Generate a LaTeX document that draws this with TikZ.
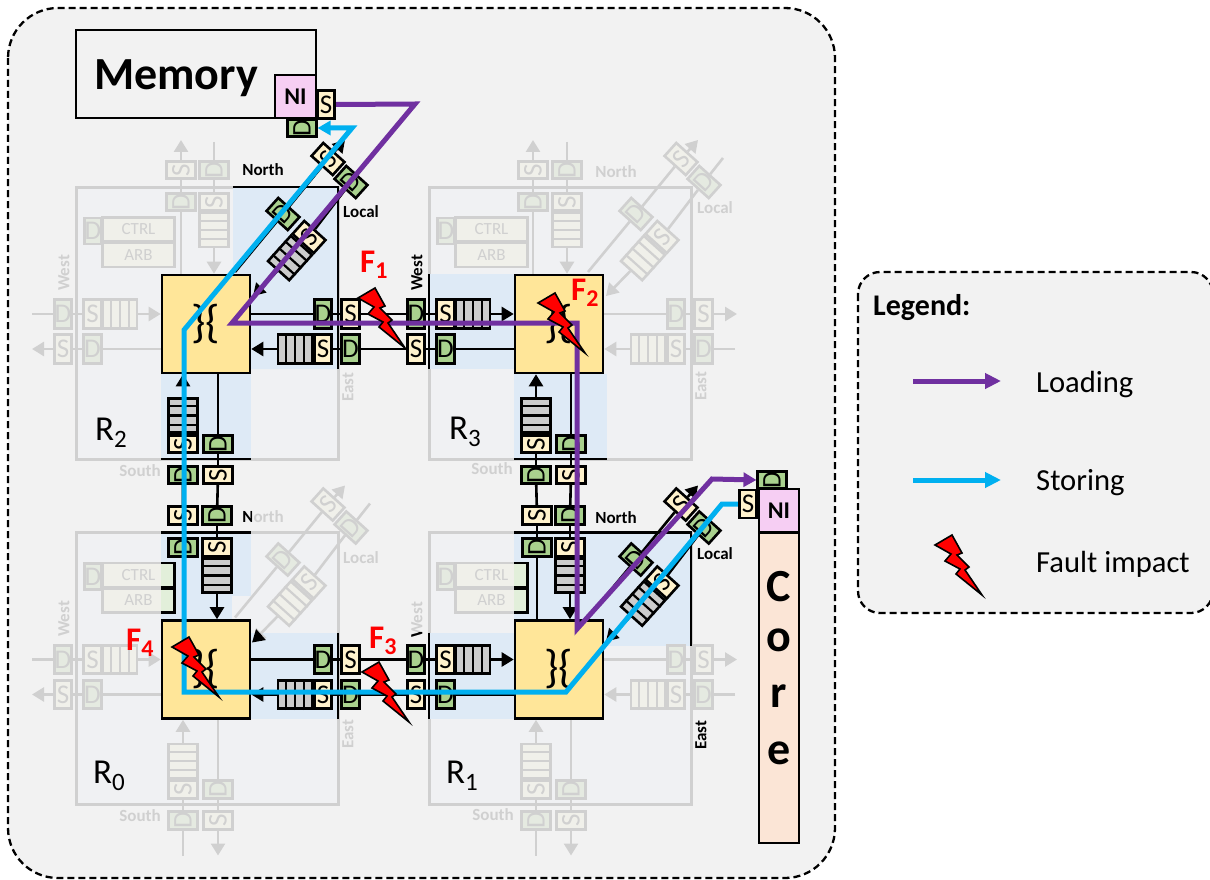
\documentclass[tikz,border=0pt]{standalone}
\usepackage{fontspec}
\setmainfont{Carlito}
\usetikzlibrary{arrows.meta, calc}
\definecolor{nocbg}{HTML}{F2F2F2}
\definecolor{tilebg}{HTML}{F0F1F3}
\definecolor{hilite}{HTML}{DEEAF6}
\definecolor{xbarc}{HTML}{FFE699}
\definecolor{srcc}{HTML}{FFF2CC}
\definecolor{dstc}{HTML}{A9D18E}
\definecolor{bufc}{HTML}{CCCCCC}
\definecolor{ctrlc}{HTML}{E2EFDA}
\definecolor{nic}{HTML}{F6CEF3}
\definecolor{corec}{HTML}{FBE5D6}
\definecolor{fdline}{HTML}{D0D0D0}
\definecolor{fdsrc}{HTML}{F0F0EA}
\definecolor{fddst}{HTML}{E5EAE1}
\definecolor{loadc}{HTML}{7030A0}
\definecolor{storec}{HTML}{00B0F0}
\newcommand\fs[1]{\fontsize{#1}{#1}\selectfont}
\tikzset{
  >={Triangle[length=12pt, width=14pt]},
  every picture/.style={line join=miter},
  portbox/.style={minimum width=17.5pt, minimum height=28.5pt, inner sep=0pt, line width=2.6pt, font=\fs{27}},
  % active look
  sbox/.style={portbox, draw=black, fill=srcc},
  dbox/.style={portbox, draw=black, fill=dstc},
  bufbox/.style={minimum width=34pt, minimum height=28.5pt, inner sep=0pt, line width=2.6pt, draw=black, fill=bufc},
  bufcut/.style={line width=2.2pt, black},
  wire/.style={line width=2.6pt, black},
  wirearrow/.style={line width=2.6pt, black, ->},
  outwire/.style={draw=none},
  outarrow/.style={draw=none},
  ctrlcell/.style={minimum width=72pt, minimum height=24pt, inner sep=0pt, line width=2.6pt, draw=fdline, fill=fdsrc, text=fdline, font=\fs{17}},
  % everything not used by the route
  faded/.style={
    sbox/.style={portbox, draw=fdline, fill=fdsrc, text=fdline},
    dbox/.style={portbox, draw=fdline, fill=fddst, text=fdline},
    bufbox/.style={minimum width=34pt, minimum height=28.5pt, inner sep=0pt, line width=2.6pt, draw=fdline, fill=fdsrc},
    bufcut/.style={line width=2.2pt, fdline},
    wire/.style={line width=2.6pt, fdline},
    wirearrow/.style={line width=2.6pt, fdline, ->},
    outwire/.style={line width=2.6pt, fdline},
    outarrow/.style={line width=2.6pt, fdline, ->},
  },
  frm/.style={line width=3pt, draw=fdline, fill=tilebg},
  edge/.style={line width=2.6pt, black},
  xbar/.style={minimum width=88pt, minimum height=98pt, inner sep=0pt, line width=2.6pt, draw=black, fill=xbarc, font=\fs{46}},
  plain/.style={line width=2.6pt, draw=black},
  pname/.style={font=\bfseries\fs{17}},
  pnamefd/.style={font=\bfseries\fs{17}, text=fdline},
  rname/.style={anchor=base west, inner sep=0pt, font=\fs{35}},
  fname/.style={anchor=base west, inner sep=0pt, text=red, font=\bfseries\fs{33}},
  dashbox/.style={line width=2.3pt, dash pattern=on 7pt off 4pt, fill=nocbg},
  loadpath/.style={line width=5pt, loadc, -{Triangle[length=13pt, width=14pt]}},
  storepath/.style={line width=5pt, storec, -{Triangle[length=13pt, width=14pt]}},
  bolt/.pic={
    \draw[line width=1.6pt, fill=red] (17,0) -- (27,18) -- (22,20) -- (34,32) -- (30,35) -- (47,60)
      -- (21,39) -- (25,34) -- (10,26) -- (16,19) -- (0,10) -- cycle;
  },
}
% buffer with cell dividers
\newcommand\bufr[4]{%
  \node[bufbox, rotate=#3] (#4) at (#1,#2) {};
  \foreach \i in {1,2,3}
    \draw[bufcut] ($(#4.south west)!\i/4!(#4.south east)$) -- ($(#4.north west)!\i/4!(#4.north east)$);}
\newcommand\tile{%
  \draw[frm] (-85,-87) rectangle (177,185);}
\newcommand\xcell{%
  \node[xbar] (xb) at (45,50) {\raisebox{-5pt}{\}\{}};}
\newcommand\westport{%
  \node[dbox] (wd) at (-98,40) {D};
  \node[sbox] (ws) at (-68.5,40) {S};
  \bufr{-41}{40}{0}{wb}
  \node[sbox] (wt) at (-98,75) {S};
  \node[dbox] (wr) at (-68.5,75) {D};
  \draw[wire] (wd) -- (ws) (wt) -- (wr) (wr) -- (wr -| xb.west);
  \draw[wirearrow] (wb) -- (wb -| xb.west);
  \draw[outwire] (-129,40) -- (wd);
  \draw[outarrow] (wt) -- (-129,75);}
\newcommand\eastport{%
  \node[dbox] (ed) at (162,40) {D};
  \node[sbox] (es) at (189.5,40) {S};
  \bufr{134}{75}{0}{eb}
  \node[sbox] (et) at (162,75) {S};
  \node[dbox] (er) at (189.5,75) {D};
  \draw[wire] (ed -| xb.east) -- (ed) (ed) -- (es) (et) -- (er);
  \draw[wirearrow] (eb) -- (eb -| xb.east);
  \draw[outarrow] (es) -- (223,40);
  \draw[outwire] (221,75) -- (er);}
% #1, #2: columns of the two directions
\newcommand\northport[2]{%
  \node[sbox, rotate=90] (nu) at (#1,-104) {S};
  \node[dbox, rotate=90] (nl) at (#1,-72) {D};
  \node[dbox, rotate=90] (nd) at (#2,-104) {D};
  \node[sbox, rotate=90] (ns) at (#2,-72) {S};
  \bufr{#2}{-44}{90}{nb}
  \draw[wire] (nl |- xb.north) -- (nl) (nl) -- (nu) (nd) -- (ns);
  \draw[wirearrow] (nb) -- (nb |- xb.north);
  \draw[outarrow] (nu) -- (#1,-134);
  \draw[outwire] (#2,-132) -- (nd);}
\newcommand\southport{%
  \bufr{22}{141.5}{90}{sb}
  \node[sbox, rotate=90] (si) at (22,170) {S};
  \node[dbox, rotate=90] (sd) at (22,201) {D};
  \node[dbox, rotate=90] (st) at (57,170) {D};
  \node[sbox, rotate=90] (so) at (57,201) {S};
  \draw[wire] (si) -- (sd) (st |- xb.south) -- (st) (st) -- (so);
  \draw[wirearrow] (sb) -- (sb |- xb.south);
  \draw[outwire] (22,236) -- (sd);
  \draw[outarrow] (so) -- (57,236);}
\newcommand\localport{%
  \node[dbox, rotate=48] (li) at (122,-60) {D};
  \node[sbox, rotate=48] (lj) at (148,-37) {S};
  \bufr{129}{-16}{48}{lb}
  \node[sbox, rotate=48] (lu) at (167,-115) {S};
  \node[dbox, rotate=48] (lv) at (190,-92) {D};
  \draw[wire] (74,-2) -- (li) (li) -- (lu) (lj) -- (lv) (lv) -- (209,-116);
  \draw[wirearrow] (lu) -- (184,-134);
  \draw[wirearrow] (lb) -- (92,22);}
\newcommand\ctrlpair{%
  \node[dbox, minimum height=26pt] (cd) at (-68,-43) {D};
  \node[ctrlcell] (ct) at (-22.5,-44.5) {CTRL};
  \node[ctrlcell] (ar) at (-22.5,-19) {ARB};}
% part of the control block that lies in the lit area
\newcommand\ctrllit{%
  \begin{scope}
    \clip (0,-60) rectangle (20,-3);
    \node[ctrlcell, draw=black, fill=ctrlc] (ct1) at (-22.5,-44.5) {};
    \node[ctrlcell, draw=black, fill=ctrlc] (ar1) at (-22.5,-19) {};
  \end{scope}}

\begin{document}
\begin{tikzpicture}[x=1pt, y=-1pt]
  \useasboundingbox (0,0) rectangle (1210,880);
  \draw[dashbox, rounded corners=50pt] (8,8) rectangle (835,878);
  \draw[dashbox, rounded corners=22pt] (858,272) rectangle (1213,613);
  % ---------------- R2
  \begin{scope}[shift={(161,274)}, name prefix=rb-]
    \tile
    \fill[hilite] (72,-87) -- (177,-87) -- (177,95) -- (90,95) -- (90,0) -- (72,0) -- cycle;
    \fill[hilite] (0,100) rectangle (90,185);
    \draw[edge] (72,-87) -- (177,-87) -- (177,95) (0,185) -- (90,185);
    \xcell
    \begin{scope}[faded]
      \northport{20}{53}
      \westport
      \ctrlpair
    \end{scope}
    \southport
    \eastport
    \localport
  \end{scope}
  % ---------------- R3
  \begin{scope}[shift={(514,274)}, name prefix=rc-]
    \tile
    \fill[hilite] (-85,0) rectangle (0,95);
    \fill[hilite] (0,100) rectangle (93,185);
    \draw[edge] (-85,0) -- (-85,95) (0,185) -- (93,185);
    \xcell
    \begin{scope}[faded]
      \northport{19}{53}
      \eastport
      \localport
      \ctrlpair
    \end{scope}
    \westport
    \southport
  \end{scope}
  % ---------------- R0
  \begin{scope}[shift={(161,619.5)}, name prefix=ra-]
    \tile
    \fill[hilite] (0,-87) rectangle (90,-24);
    \fill[hilite] (0,-24) rectangle (71,0);
    \fill[hilite] (90,13) rectangle (177,99);
    \draw[edge] (0,-87) -- (90,-87) (177,13) -- (177,99);
    \xcell
    \begin{scope}[faded]
      \westport
      \southport
      \localport
      \ctrlpair
    \end{scope}
    \ctrllit
    \draw[wirearrow] (100,15) -- (91,23);
    \northport{22}{56}
    \eastport
  \end{scope}
  % ---------------- R1
  \begin{scope}[shift={(514,619.5)}, name prefix=rd-]
    \tile
    \fill[hilite] (0,-87) rectangle (177,26);
    \fill[hilite] (-85,13) rectangle (0,99);
    \draw[edge] (0,-87) -- (177,-87) -- (177,26) (-85,13) -- (-85,99);
    \xcell
    \begin{scope}[faded]
      \southport
      \eastport
      \ctrlpair
    \end{scope}
    \ctrllit
    \northport{23}{56}
    \westport
    \localport
  \end{scope}
  % links between routers
  \draw[wire] (rb-sd) -- (ra-nu) (rb-so) -- (ra-nd);
  \draw[wire] (rc-sd) -- (rd-nu) (rc-so) -- (rd-nd);
  \draw[wire] (rb-es) -- (rc-wd) (rc-wt) -- (rb-er);
  \draw[wire] (ra-es) -- (rd-wd) (rd-wt) -- (ra-er);
  % memory and core
  \node[plain, minimum width=240pt, minimum height=88pt] (mem) at (196,74) {};
  \node[anchor=base west, inner sep=0pt, font=\bfseries\fs{46}] (memt) at (94,90) {Memory};
  \node[plain, fill=nic, minimum width=41pt, minimum height=43pt, font=\bfseries\fs{24}] (memni) at (295.5,96.5) {NI};
  \node[sbox, minimum height=28pt] (mems) at (326,104.5) {S};
  \node[dbox, rotate=90] (memd) at (302,128) {D};
  \node[plain, fill=corec, minimum width=40pt, minimum height=310pt] (core) at (779,688) {};
  \node[plain, fill=nic, minimum width=40pt, minimum height=43pt, font=\bfseries\fs{24}] (coreni) at (779,510.5) {NI};
  \node[sbox, minimum height=28pt] (cores) at (748,504) {S};
  \node[dbox, rotate=90] (cored) at (772,480) {D};
  \foreach \y/\c/\n in {601/C/cc, 651/o/co, 707/r/cr, 764/e/ce}
    \node[anchor=base, font=\bfseries\fs{46}] (\n) at (779,\y) {\c};
  % port names
  \node[pname] (n2) at (263,170) {North};
  \node[pname] (l2) at (361,212) {Local};
  \node[pnamefd] (n3) at (616,172) {North};
  \node[pnamefd] (l3) at (715,208) {Local};
  \node[pnamefd] (n0) at (263,517) {North};
  \begin{scope}
    \clip (230,505) rectangle (251,530);
    \node[pname] (n0b) at (263,517) {North};
  \end{scope}
  \node[pnamefd] (l0) at (361,558) {Local};
  \node[pname] (n1) at (616,518) {North};
  \node[pname] (l1) at (715,554) {Local};
  \node[pnamefd] (s2) at (140,471) {South};
  \node[pnamefd] (s3) at (492,469) {South};
  \node[pnamefd] (s0) at (140,816) {South};
  \node[pnamefd] (s1) at (493,815) {South};
  \node[pnamefd, rotate=90] (e2) at (348,387) {East};
  \node[pnamefd, rotate=90] (e3) at (701,386) {East};
  \node[pnamefd, rotate=90] (e0) at (348,734) {East};
  \node[pname, rotate=90] (e1) at (701,735) {East};
  \node[pnamefd, rotate=90] (w2) at (64,273) {West};
  \node[pname, rotate=90] (w3) at (417,273) {West};
  \node[pnamefd, rotate=90] (w0) at (64,619) {West};
  \node[pnamefd, rotate=90] (w1) at (417,620) {West};
  \begin{scope}
    \clip (405,632) rectangle (430,650);
    \node[pname, rotate=90] (w1b) at (417,620) {West};
  \end{scope}
  % router names
  \foreach \x/\y/\d/\n in {95/440/2/t2, 449/439/3/t3, 93/783/0/t0, 446/783/1/t1}
    \node[rname] (\n) at (\x,\y) {R\raisebox{-7pt}{\fs{25}\d}};
  % the two routes
  \draw[loadpath] (mems.east) -- (415,104) -- (232,323) -- (577,323) -- (577,629) -- (712,479) -- (cored.north);
  \draw[storepath] (cores.west) -- (722,504) -- (566,692) -- (184,692) -- (184,330) -- (352,128) -- (memd.south);
  % faults
  \pic (f1) at (358,288) {bolt};
  \pic (f2) at (538,293) {bolt};
  \pic (f3) at (362,662) {bolt};
  \pic (f4) at (172,637) {bolt};
  \foreach \x/\y/\d/\n in {360/272/1/a1, 571/300/2/a2, 369/648/3/a3, 126/650/4/a4}
    \node[fname] (\n) at (\x,\y) {F\raisebox{-6pt}{\fs{24}\d}};
  % legend
  \node[anchor=base west, inner sep=0pt, font=\bfseries\fs{30}] (lg) at (873,315) {Legend:};
  \coordinate (la) at (913,381);
  \coordinate (lb) at (1001,381);
  \coordinate (sa) at (913,480);
  \coordinate (sb) at (1001,480);
  \draw[loadpath, -{Triangle[length=16pt, width=15pt]}] (la) -- (lb);
  \draw[storepath, -{Triangle[length=16pt, width=15pt]}] (sa) -- (sb);
  \node[anchor=base west, inner sep=0pt, font=\fs{30.6}] (lt) at (1036,392) {Loading};
  \node[anchor=base west, inner sep=0pt, font=\fs{30.6}] (st) at (1036,490) {Storing};
  \node[anchor=base west, inner sep=0pt, font=\fs{30.6}] (ft) at (1036,572) {Fault impact};
  \pic (fl) at (935,535) {bolt};
\end{tikzpicture}
\end{document}
